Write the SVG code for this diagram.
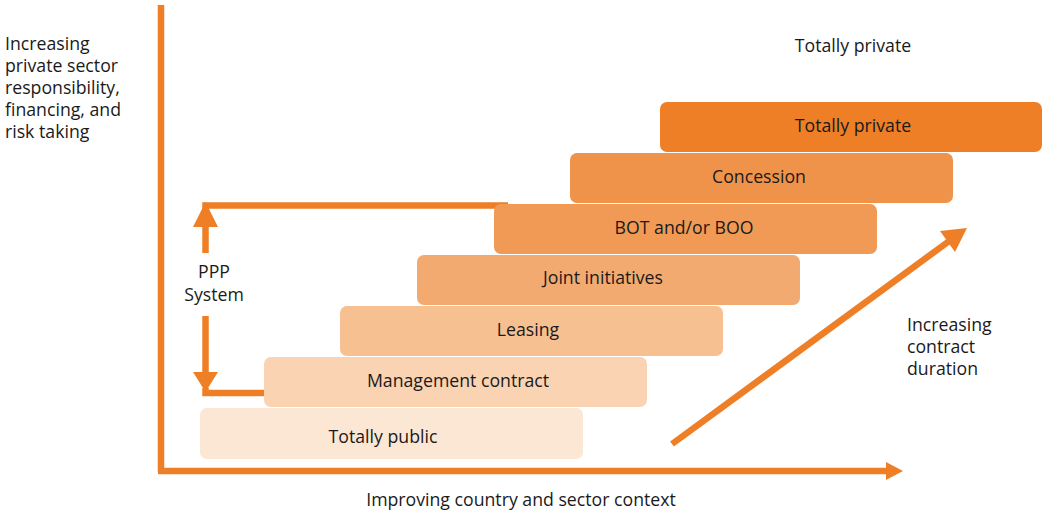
<svg xmlns="http://www.w3.org/2000/svg" width="1042" height="512" viewBox="0 0 1042 512">
  <style>
    text { font-family: "Open Sans", "Noto Sans", "Liberation Sans", sans-serif; font-size: 17.7px; fill: #1a1a1a; }
    .mid { text-anchor: middle; }
    .line { stroke: #EE7F26; stroke-width: 6.5; fill: none; }
    .head { fill: #EE7F26; }
  </style>
  <rect width="1042" height="512" fill="#ffffff"/>

  <!-- axes and arrows -->
  <g id="connectors">
    <!-- vertical axis -->
    <line class="line" x1="161" y1="5" x2="161" y2="472"/>
    <!-- horizontal axis -->
    <line class="line" x1="158" y1="471" x2="888" y2="471"/>
    <polygon class="head" points="886,462 903,471 886,480"/>
    <!-- PPP bracket -->
    <polyline class="line" points="508,205.5 205.5,205.5 205.5,226"/>
    <polygon class="head" points="193,227 205.5,202 218,227"/>
    <line class="line" x1="205.5" y1="226" x2="205.5" y2="253"/>
    <line class="line" x1="205.5" y1="316" x2="205.5" y2="373"/>
    <polygon class="head" points="193,372 205.5,392 218,372"/>
    <polyline class="line" points="205.5,388 205.5,393 264,393"/>
    <!-- contract duration arrow -->
    <line class="line" x1="672" y1="444" x2="952" y2="239"/>
    <polygon class="head" points="940,231 967,228 955,252"/>
  </g>

  <g id="totally-public">
    <rect x="200" y="408" width="383" height="51" rx="7" fill="#FCE6D4"/>
    <text class="mid" x="383" y="443">Totally public</text>
  </g>
  <g id="management-contract">
    <rect x="264" y="357" width="383" height="50" rx="7" fill="#F9D3B2"/>
    <text class="mid" x="458" y="387">Management contract</text>
  </g>
  <g id="leasing">
    <rect x="340" y="306" width="383" height="50" rx="7" fill="#F6C091"/>
    <text class="mid" x="528" y="336">Leasing</text>
  </g>
  <g id="joint-initiatives">
    <rect x="417" y="255" width="383" height="50" rx="7" fill="#F3AA71"/>
    <text class="mid" x="603" y="284">Joint initiatives</text>
  </g>
  <g id="bot-boo">
    <rect x="494" y="204" width="383" height="50" rx="7" fill="#F09A56"/>
    <text class="mid" x="684" y="234">BOT and/or BOO</text>
  </g>
  <g id="concession">
    <rect x="570" y="153" width="383" height="50" rx="7" fill="#F0934A"/>
    <text class="mid" x="759" y="183">Concession</text>
  </g>
  <g id="totally-private">
    <rect x="660" y="102" width="382" height="50" rx="7" fill="#EE7F26"/>
    <text class="mid" x="853" y="132">Totally private</text>
  </g>

  <!-- labels -->
  <g id="labels">
    <text x="5" y="50">Increasing</text>
    <text x="5" y="72">private sector</text>
    <text x="5" y="94">responsibility,</text>
    <text x="5" y="116">financing, and</text>
    <text x="5" y="138">risk taking</text>
    <text class="mid" x="853" y="52">Totally private</text>
    <text class="mid" x="214" y="278">PPP</text>
    <text class="mid" x="214" y="301">System</text>
    <text x="907" y="331">Increasing</text>
    <text x="907" y="353">contract</text>
    <text x="907" y="375">duration</text>
    <text class="mid" x="521" y="506">Improving country and sector context</text>
  </g>
</svg>
